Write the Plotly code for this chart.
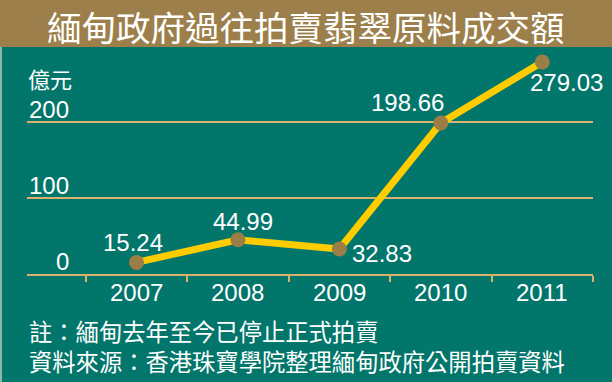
import plotly.graph_objects as go

# ---- data ----
years = ["2007", "2008", "2009", "2010", "2011"]
values = [15.24, 44.99, 32.83, 198.66, 279.03]
value_labels = ["15.24", "44.99", "32.83", "198.66", "279.03"]
y_ticks = [0, 100, 200]
title_text = "緬甸政府過往拍賣翡翠原料成交額"
unit_text = "億元"
note_lines = ["註：緬甸去年至今已停止正式拍賣", "資料來源：香港珠寶學院整理緬甸政府公開拍賣資料"]

# ---- styling / layout ----
W, H = 612, 382
L, R, T, B = 27, 19, 46, 108
TEAL = "#03766B"
BROWN = "#9C7F4A"
TAN = "#D6B26C"
YELLOW = "#FFCC00"
MARK = "#9A7E45"
NUM_FONT = "Liberation Sans, Arial, sans-serif"
CJK_FONT = "Noto Sans CJK TC, Noto Sans CJK SC, sans-serif"
XRANGE = [-1.08, 4.5]

pw, ph = W - L - R, H - T - B
def px2x(p):
    return (p - L) / pw
def px2y(p):
    return (H - B - p) / ph

# label offsets (pixels) relative to each point
label_shift = [(-4, 20), (5, 18), (43, -4), (-33, 21), (24, -21)]

xidx = list(range(len(years)))
boundaries = [i + 0.5 for i in range(-1, len(years))]

fig = go.Figure()
fig.add_trace(go.Scatter(
    x=xidx, y=values, mode="lines+markers",
    line=dict(color=YELLOW, width=7),
    marker=dict(color=MARK, size=15, line=dict(width=0)),
    cliponaxis=False, hoverinfo="skip", showlegend=False,
))

annotations = []
for i, (v, lab) in enumerate(zip(values, value_labels)):
    dx, dy = label_shift[i]
    annotations.append(dict(
        x=i, y=v, xref="x", yref="y", text=lab, showarrow=False,
        xshift=dx, yshift=dy, xanchor="center", yanchor="middle",
        font=dict(family=NUM_FONT, size=24, color="white"),
    ))
for i, yr in enumerate(years):
    annotations.append(dict(
        x=i, y=0, xref="x", yref="y", text=yr, showarrow=False,
        yshift=-18, xanchor="center", yanchor="middle",
        font=dict(family=NUM_FONT, size=24, color="white"),
    ))
for t in y_ticks:
    annotations.append(dict(
        x=px2x(71), y=t, xref="paper", yref="y", text=str(t), showarrow=False,
        xanchor="right", yanchor="middle", yshift=13,
        font=dict(family=NUM_FONT, size=24, color="white"),
    ))
annotations.append(dict(
    x=px2x(306), y=px2y(25.5), xref="paper", yref="paper", text=title_text,
    showarrow=False, xanchor="center", yanchor="middle",
    font=dict(family=CJK_FONT, size=34.5, color="white"),
))
annotations.append(dict(
    x=px2x(26), y=px2y(78), xref="paper", yref="paper", text=unit_text,
    showarrow=False, xanchor="left", yanchor="middle",
    font=dict(family=CJK_FONT, size=22, color="white"),
))
annotations.append(dict(
    x=px2x(27), y=px2y(346), xref="paper", yref="paper",
    text="<br>".join(note_lines), align="left",
    showarrow=False, xanchor="left", yanchor="middle",
    font=dict(family=CJK_FONT, size=23.3, color="white"),
))

shapes = [
    dict(type="rect", xref="paper", yref="paper", layer="below",
         x0=px2x(0), x1=px2x(W), y0=px2y(47), y1=px2y(0),
         fillcolor=BROWN, line=dict(width=0)),
    dict(type="rect", xref="paper", yref="paper", layer="below",
         x0=px2x(0), x1=px2x(2), y0=px2y(H), y1=px2y(47),
         fillcolor="#8FB5AC", line=dict(width=0)),
]

fig.update_layout(
    width=W, height=H,
    margin=dict(l=L, r=R, t=T, b=B, pad=0),
    paper_bgcolor=TEAL, plot_bgcolor=TEAL,
    xaxis=dict(
        range=XRANGE, tickmode="array", tickvals=boundaries,
        showticklabels=False,
        showgrid=False, zeroline=False, showline=True, linecolor=TAN, linewidth=2,
        ticks="outside", ticklen=6, tickwidth=2, tickcolor=TAN, fixedrange=True,
    ),
    yaxis=dict(
        range=[0, 300], tickmode="array", tickvals=[100, 200],
        showticklabels=False, showgrid=True, gridcolor=TAN, gridwidth=2,
        zeroline=False, showline=False, fixedrange=True,
    ),
    annotations=annotations, shapes=shapes,
)

fig.write_html(
    "out.html",
    config={"displayModeBar": False, "staticPlot": True},
    post_script="document.body.style.margin='0';document.body.style.overflow='hidden';",
)
